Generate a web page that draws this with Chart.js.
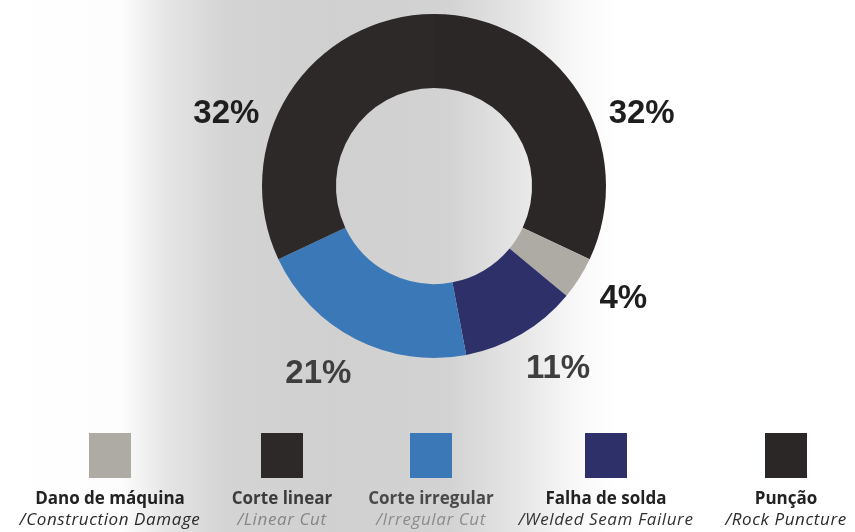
<!DOCTYPE html>
<html>
<head>
<meta charset="utf-8">
<script src="https://cdn.jsdelivr.net/npm/chart.js@4.4.1/dist/chart.umd.min.js"></script>
<style>
  html, body { margin: 0; padding: 0; }
  #wrap {
    position: relative; width: 855px; height: 532px; overflow: hidden;
    background: linear-gradient(90deg, #ffffff 0px, #fdfdfd 120px, #e6e6e6 165px, #d4d4d4 225px,
      #d0d0d0 330px, #d3d3d3 450px, #e6e6e6 520px, #f8f8f8 575px, #ffffff 615px);
  }
  #chart { position: absolute; left: 0; top: 0; }
  .item { position: absolute; top: 433px; width: 240px; margin-left: -120px; text-align: center; }
  .sw { width: 42px; height: 45px; margin: 0 auto; }
  .t1 { font-family: "Open Sans", sans-serif; font-weight: 700; font-size: 17px; line-height: 21px; margin-top: 9px; }
  .t2 { font-family: "Open Sans", sans-serif; font-style: italic; font-size: 17px; line-height: 21px; letter-spacing: 0.6px; }
</style>
</head>
<body>
<div id="wrap">
  <canvas id="chart" width="855" height="532"></canvas>
  <div id="legend"></div>
</div>
<script>
// ---- data (legend order) ----
const categories = ['Dano de máquina', 'Corte linear', 'Corte irregular', 'Falha de solda', 'Punção'];
const subLabels = ['/Construction Damage', '/Linear Cut', '/Irregular Cut', '/Welded Seam Failure', '/Rock Puncture'];
const shares = [4, 32, 21, 11, 32];
const valueLabels = ['4%', '32%', '21%', '11%', '32%'];
// clockwise drawing order of the slices, starting at 12 o'clock
const sliceOrder = [4, 0, 3, 2, 1];

// ---- styles ----
const colors = ['#aeaba4', '#2c2928', '#3a78b8', '#2e3069', '#2c2727'];
const labelColors = ['#1e1e1e', '#1e1e1e', '#3e3e3e', '#3e3e3e', '#1e1e1e'];
const labelAngleNudge = [-1.7, -13, 4.7, -3.7, 13];   // degrees, clockwise
const legendCenters = [110, 282, 431, 606, 786];
const t1Colors = ['#222', '#3c3c3c', '#4a4a4a', '#222', '#222'];
const t2Colors = ['#2a2a2a', '#858585', '#8c8c8c', '#333', '#2a2a2a'];

const ordered = (arr) => sliceOrder.map(i => arr[i]);

const valueLabelPlugin = {
  id: 'valueLabels',
  afterDatasetsDraw(chart) {
    const ctx = chart.ctx;
    const meta = chart.getDatasetMeta(0);
    ctx.save();
    ctx.font = 'bold 33px "Liberation Sans", Arial, sans-serif';
    ctx.textAlign = 'center';
    ctx.textBaseline = 'middle';
    meta.data.forEach((arc, k) => {
      const idx = sliceOrder[k];
      const p = arc.getProps(['x', 'y', 'startAngle', 'endAngle', 'outerRadius'], true);
      const a = (p.startAngle + p.endAngle) / 2 + labelAngleNudge[idx] * Math.PI / 180;
      const r = p.outerRadius * 1.28;
      ctx.fillStyle = labelColors[idx];
      ctx.fillText(valueLabels[idx], p.x + r * Math.cos(a), p.y + r * Math.sin(a) + 1);
    });
    ctx.restore();
  }
};

new Chart(document.getElementById('chart'), {
  type: 'doughnut',
  data: {
    labels: ordered(categories),
    datasets: [{
      data: ordered(shares),
      backgroundColor: ordered(colors),
      borderWidth: 0
    }]
  },
  options: {
    responsive: false,
    animation: false,
    devicePixelRatio: 1,
    cutout: '57%',
    layout: { padding: { top: 14, bottom: 174, left: 13, right: 0 } },
    plugins: { legend: { display: false }, tooltip: { enabled: false } }
  },
  plugins: [valueLabelPlugin]
});

// ---- HTML legend built from the arrays ----
const legend = document.getElementById('legend');
categories.forEach((c, i) => {
  const d = document.createElement('div');
  d.className = 'item';
  d.style.left = legendCenters[i] + 'px';
  const sw = document.createElement('div');
  sw.className = 'sw';
  sw.style.background = colors[i];
  const t1 = document.createElement('div');
  t1.className = 't1'; t1.textContent = c; t1.style.color = t1Colors[i];
  const t2 = document.createElement('div');
  t2.className = 't2'; t2.textContent = subLabels[i]; t2.style.color = t2Colors[i];
  d.appendChild(sw); d.appendChild(t1); d.appendChild(t2);
  legend.appendChild(d);
});
</script>
</body>
</html>
